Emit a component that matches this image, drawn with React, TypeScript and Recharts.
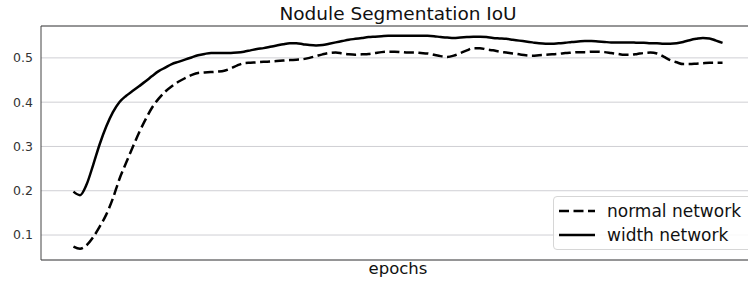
import { LineChart, Line, XAxis, YAxis, CartesianGrid, ReferenceLine, Label } from 'recharts'

const epochs = Array.from({ length: 100 }, (_, i) => i)

const normalIoU = [
  0.074, 0.069, 0.077, 0.095, 0.119, 0.146, 0.182, 0.226, 0.262, 0.297,
  0.331, 0.361, 0.388, 0.408, 0.424, 0.436, 0.446, 0.454, 0.461, 0.466,
  0.467, 0.468, 0.469, 0.471, 0.476, 0.483, 0.488, 0.489, 0.49, 0.491,
  0.492, 0.493, 0.494, 0.495, 0.496, 0.497, 0.5, 0.504, 0.508, 0.511,
  0.512, 0.51, 0.508, 0.507, 0.508, 0.509, 0.511, 0.513, 0.514, 0.514,
  0.513, 0.512, 0.512, 0.511, 0.51, 0.507, 0.504, 0.502, 0.505, 0.511,
  0.517, 0.522, 0.522, 0.519, 0.517, 0.514, 0.512, 0.51, 0.508, 0.506,
  0.505, 0.506, 0.507, 0.508, 0.509, 0.511, 0.512, 0.513, 0.513, 0.514,
  0.514, 0.513, 0.511, 0.509, 0.507, 0.507, 0.509, 0.511, 0.512, 0.51,
  0.503, 0.495, 0.49, 0.486, 0.486, 0.487, 0.488, 0.489, 0.489, 0.489,
]

const widthIoU = [
  0.198, 0.19, 0.214, 0.258, 0.305, 0.345, 0.377, 0.4, 0.414, 0.425,
  0.436, 0.447, 0.459, 0.47, 0.478, 0.486, 0.491, 0.496, 0.501, 0.506,
  0.509, 0.511, 0.511, 0.511, 0.511, 0.512, 0.514, 0.517, 0.52, 0.522,
  0.525, 0.528, 0.531, 0.533, 0.533, 0.531, 0.529, 0.528, 0.529, 0.532,
  0.535, 0.538, 0.541, 0.543, 0.545, 0.547, 0.548, 0.549, 0.55, 0.55,
  0.55, 0.55, 0.55, 0.55, 0.55, 0.549, 0.547, 0.546, 0.545, 0.546,
  0.547, 0.548, 0.548, 0.547, 0.545, 0.544, 0.543, 0.541, 0.539, 0.537,
  0.535, 0.533, 0.532, 0.532, 0.533, 0.534, 0.536, 0.537, 0.538, 0.538,
  0.537, 0.536, 0.535, 0.535, 0.535, 0.535, 0.534, 0.534, 0.533, 0.533,
  0.532, 0.532, 0.533, 0.536, 0.54, 0.543, 0.545, 0.544, 0.539, 0.534,
]

const seriesNames = ['normal network', 'width network']
const yTicks = [0.1, 0.2, 0.3, 0.4, 0.5]
const yDomain: [number, number] = [0.0436, 0.572]
const xDomain: [number, number] = [-4.95, 103.95]

const FONT = '"DejaVu Sans", sans-serif'
const DASH = '10 4.5'

// matplotlib-like legend box in the lower right, cut by the window edge
function LegendBox() {
  const rows = [
    { name: seriesNames[0], dash: DASH },
    { name: seriesNames[1], dash: undefined },
  ]
  return (
    <div
      style={{
        position: 'absolute',
        left: 553,
        top: 196,
        border: '1px solid #d6d6d6',
        borderRadius: 4,
        background: 'rgba(255,255,255,0.85)',
        width: 200,
        height: 54,
        boxSizing: 'border-box',
        paddingTop: 2,
        fontFamily: FONT,
      }}
    >
      {rows.map(r => (
        <div key={r.name} style={{ display: 'flex', alignItems: 'center', height: 24 }}>
          <svg width={48} height={24} style={{ flex: 'none' }}>
            <line x1={5} x2={41} y1={12} y2={12} stroke="#000" strokeWidth={2.5} strokeDasharray={r.dash} />
          </svg>
          <span style={{ fontSize: 17, color: '#111', marginLeft: 5, whiteSpace: 'nowrap' }}>{r.name}</span>
        </div>
      ))}
    </div>
  )
}

export default function App() {
  const data = epochs.map((e, i) => ({ epoch: e, normal: normalIoU[i], width: widthIoU[i] }))

  return (
    <div style={{ position: 'fixed', left: 0, top: 0, width: 748, height: 281, overflow: 'hidden', background: '#fff' }}>
      <div
        style={{
          position: 'absolute',
          left: 41,
          width: 714,
          top: 3,
          textAlign: 'center',
          fontFamily: FONT,
          fontSize: 18.5,
          color: '#111',
        }}
      >
        Nodule Segmentation IoU
      </div>
      <LineChart width={800} height={281} data={data} margin={{ top: 26, right: 45, left: 0, bottom: 0 }}>
        <CartesianGrid vertical={false} stroke="#cfcfd4" strokeWidth={1} />
        <XAxis
          dataKey="epoch"
          type="number"
          domain={xDomain}
          allowDataOverflow
          tick={false}
          tickLine={false}
          height={21}
          axisLine={{ stroke: '#444', strokeWidth: 1 }}
        >
          <Label value="epochs" position="insideBottom" offset={7} style={{ fontFamily: FONT, fontSize: 16.5, fill: '#111' }} />
        </XAxis>
        <YAxis
          domain={yDomain}
          allowDataOverflow
          ticks={yTicks}
          tickFormatter={(v: number) => v.toFixed(1)}
          width={41}
          tickLine={false}
          tickSize={0}
          tickMargin={8}
          axisLine={{ stroke: '#444', strokeWidth: 1 }}
          tick={{ fontFamily: FONT, fontSize: 12.5, fill: '#333' }}
        />
        <ReferenceLine y={yDomain[1]} stroke="#444" strokeWidth={1} />
        <Line
          type="monotone"
          dataKey="normal"
          name={seriesNames[0]}
          stroke="#000"
          strokeWidth={2.5}
          strokeDasharray={DASH}
          dot={false}
          isAnimationActive={false}
        />
        <Line
          type="monotone"
          dataKey="width"
          name={seriesNames[1]}
          stroke="#000"
          strokeWidth={2.5}
          dot={false}
          isAnimationActive={false}
        />
      </LineChart>
      <LegendBox />
    </div>
  )
}
